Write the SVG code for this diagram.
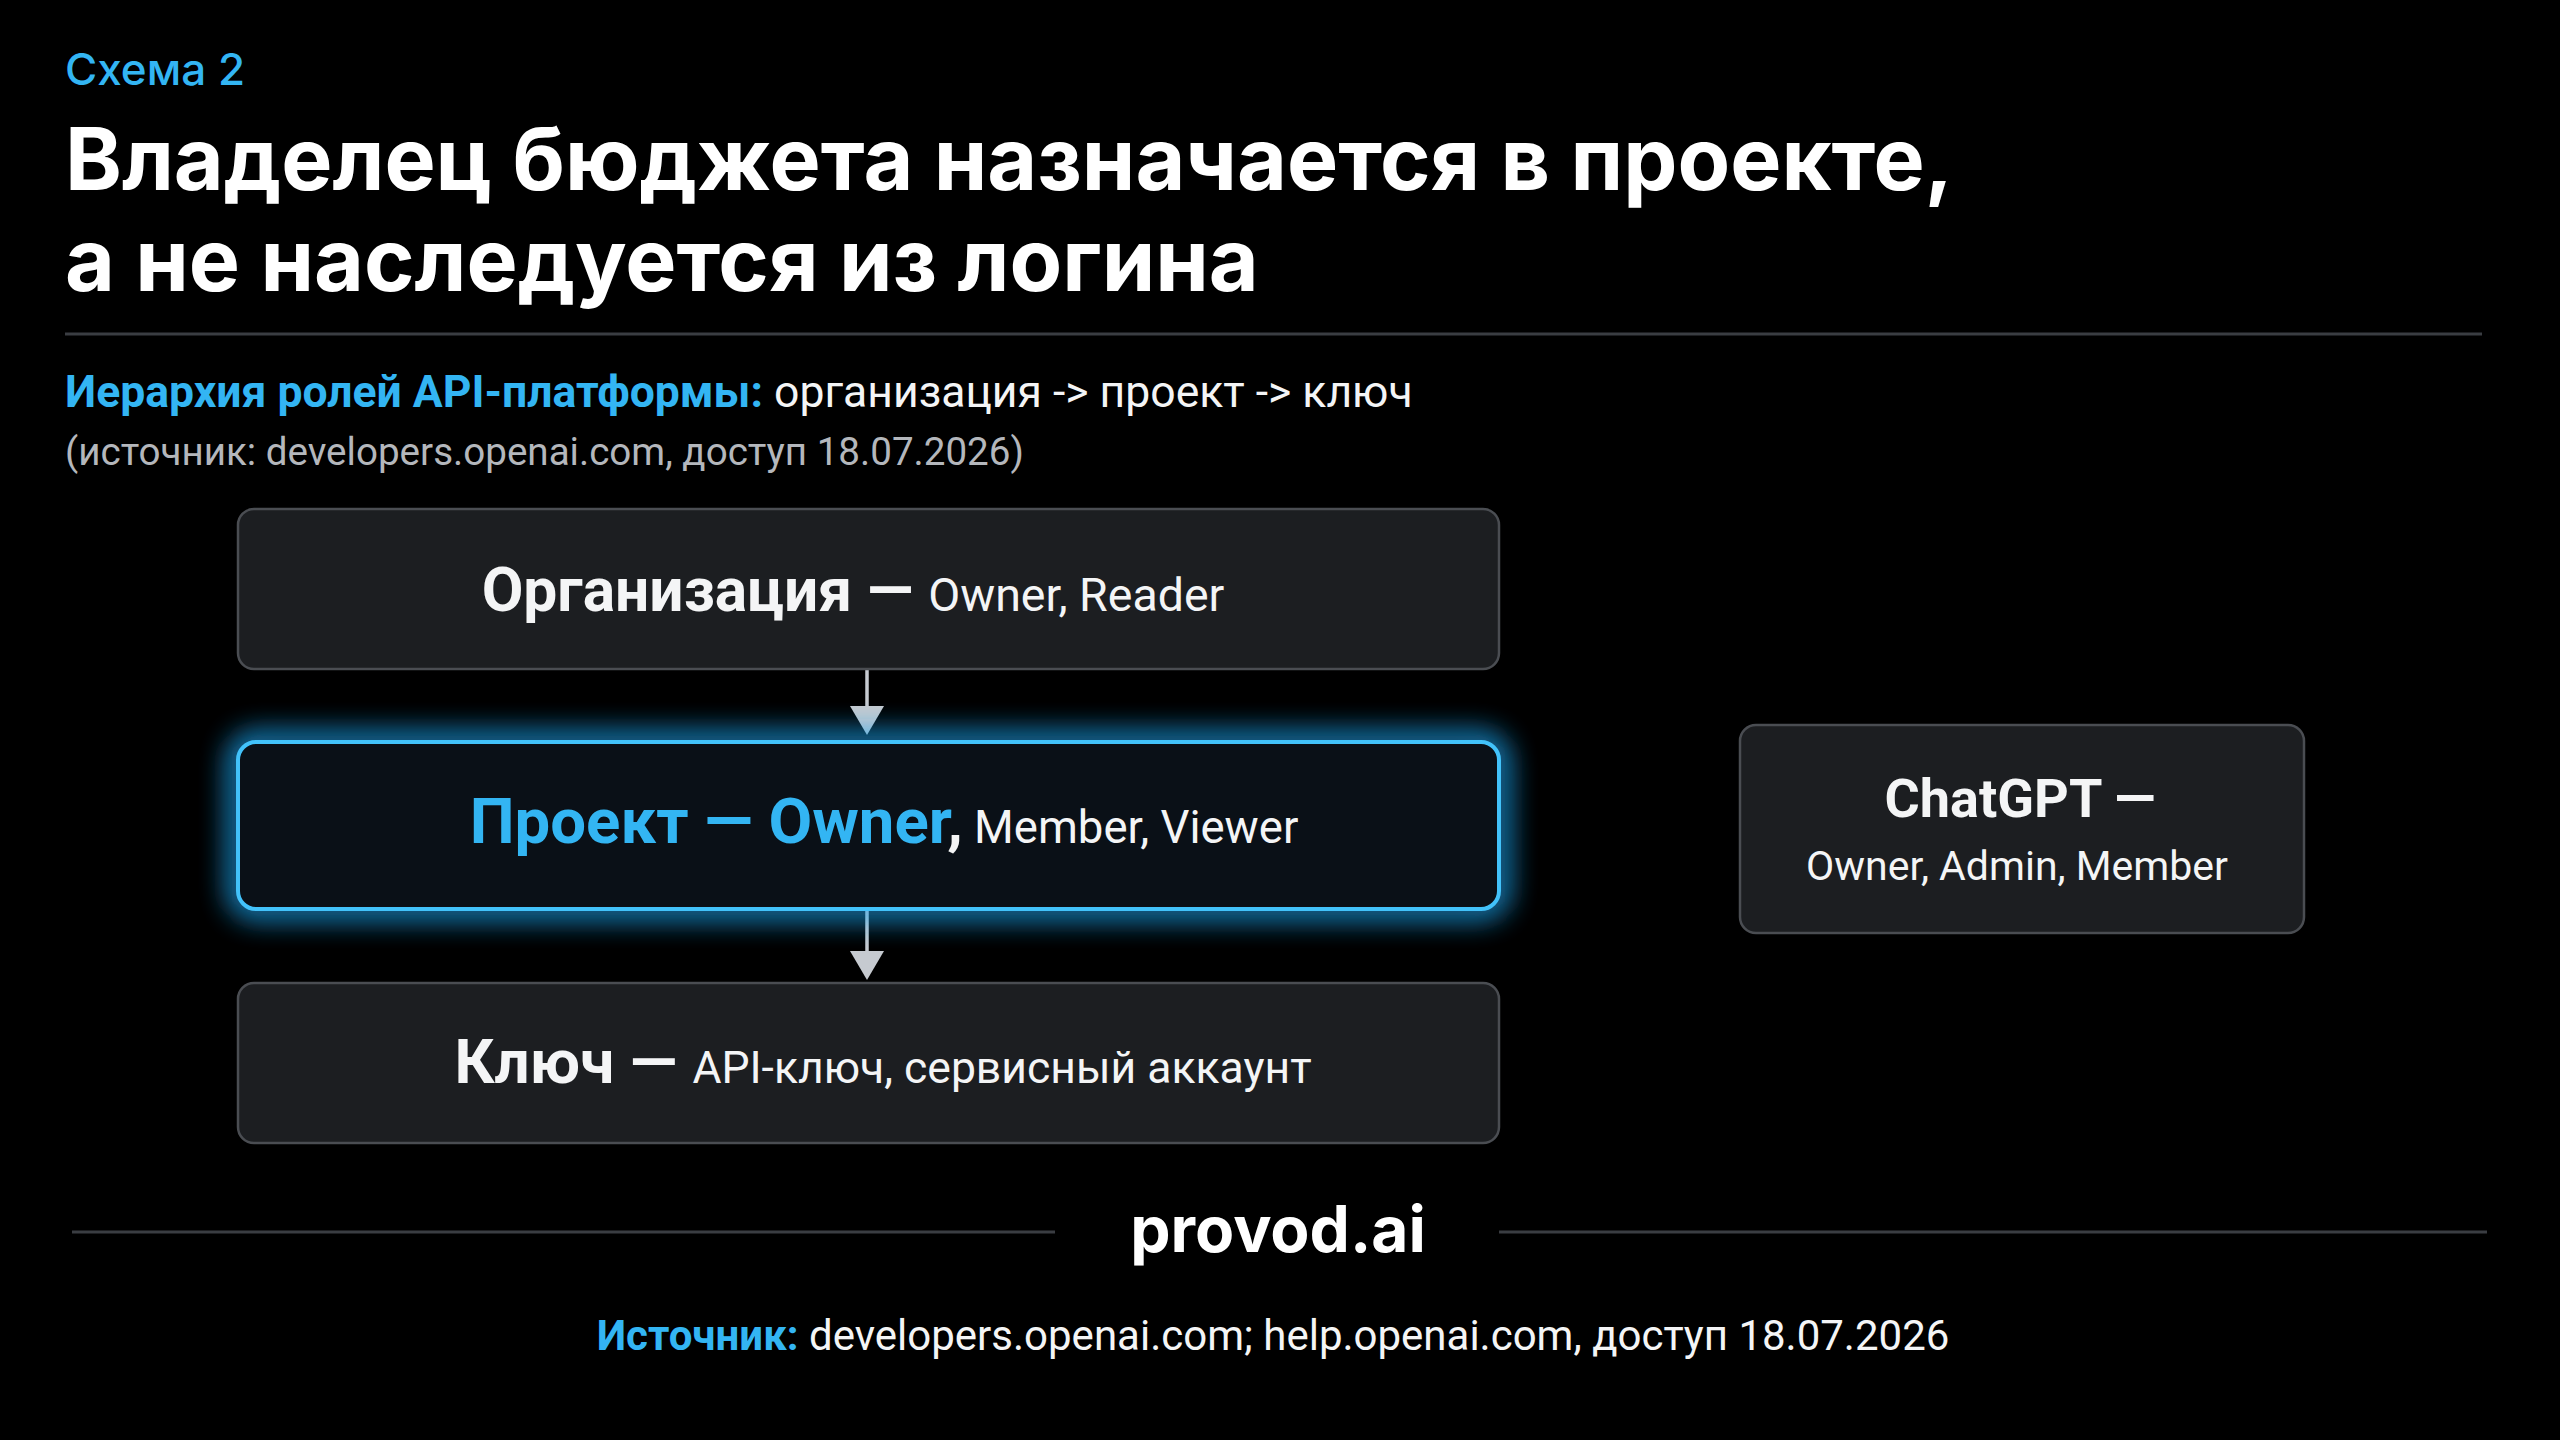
<svg xmlns="http://www.w3.org/2000/svg" width="2560" height="1440" viewBox="0 0 2560 1440">
  <style>
    .bg { fill: #000000; }
    .title { font-family: Inter, "Noto Sans", "DejaVu Sans", sans-serif; font-weight: 700; fill: #ffffff; }
    .kicker { font-family: Inter, "Noto Sans", sans-serif; font-weight: 500; }
    .reg { font-family: Roboto, "Liberation Sans", sans-serif; font-weight: 400; }
    .bold { font-family: Roboto, "Liberation Sans", sans-serif; font-weight: 700; }
    .blue { fill: #33b5f3; }
    .white { fill: #f4f5f6; }
    .muted { fill: #b4b7bc; }
    .box { fill: #1c1e21; stroke: #4a4d52; stroke-width: 2.5; }
    .hbox { fill: #0a1017; stroke: #42c2fa; stroke-width: 4; }
    .rule { stroke: #3a3d42; stroke-width: 3; }
    .conn { stroke: #c6cad0; stroke-width: 3.5; fill: none; }
  </style>
  <defs>
    <marker id="arr" viewBox="0 -17 30 34" markerWidth="30" markerHeight="34" refX="9" refY="0" orient="auto" markerUnits="userSpaceOnUse">
      <path d="M0,-17 L29,0 L0,17 z" fill="#c6cad0"/>
    </marker>
    <filter id="glow" x="-10%" y="-50%" width="120%" height="200%">
      <feGaussianBlur stdDeviation="14"/>
    </filter>
  </defs>

  <rect class="bg" x="0" y="0" width="2560" height="1440"/>

  <g id="header">
    <text class="kicker blue" x="65" y="85" font-size="44">Схема 2</text>
    <text class="title" x="65" y="190" font-size="86">Владелец бюджета назначается в проекте,</text>
    <text class="title" x="65" y="291" font-size="86">а не наследуется из логина</text>
    <line class="rule" x1="65" y1="334" x2="2482" y2="334"/>
    <text x="65" y="407" font-size="44.5"><tspan class="bold blue">Иерархия ролей API-платформы:</tspan><tspan class="reg white"> организация -&gt; проект -&gt; ключ</tspan></text>
    <text class="reg muted" x="65" y="465" font-size="38.6">(источник: developers.openai.com, доступ 18.07.2026)</text>
  </g>

  <g id="connectors">
    <line class="conn" x1="867" y1="669" x2="867" y2="715" marker-end="url(#arr)"/>
    <line class="conn" x1="867" y1="910" x2="867" y2="960" marker-end="url(#arr)"/>
  </g>

  <g id="node-org">
    <rect class="box" x="238" y="509" width="1261" height="160" rx="16"/>
    <text x="853" y="611" text-anchor="middle"><tspan class="bold white" font-size="60.5">Организация — </tspan><tspan class="reg white" font-size="46.5">Owner, Reader</tspan></text>
  </g>

  <g id="node-project">
    <rect x="238" y="742" width="1261" height="167" rx="18" fill="none" stroke="#1ea4ee" stroke-width="20" opacity="0.95" filter="url(#glow)"/>
    <rect class="hbox" x="238" y="742" width="1261" height="167" rx="18"/>
    <text x="884" y="843" text-anchor="middle"><tspan class="bold blue" font-size="63.5">Проект — Owner</tspan><tspan class="bold white" font-size="63.5">,</tspan><tspan class="reg white" font-size="45.5"> Member, Viewer</tspan></text>
  </g>

  <g id="node-key">
    <rect class="box" x="238" y="983" width="1261" height="160" rx="16"/>
    <text x="883" y="1083" text-anchor="middle"><tspan class="bold white" font-size="62">Ключ — </tspan><tspan class="reg white" font-size="44.5">API-ключ, сервисный аккаунт</tspan></text>
  </g>

  <g id="node-chatgpt">
    <rect class="box" x="1740" y="725" width="564" height="208" rx="16"/>
    <text class="bold white" x="2020" y="817" font-size="54" text-anchor="middle">ChatGPT —</text>
    <text class="reg white" x="2017" y="880" font-size="41" text-anchor="middle">Owner, Admin, Member</text>
  </g>

  <g id="footer">
    <line class="rule" x1="72" y1="1232" x2="1055" y2="1232"/>
    <line class="rule" x1="1499" y1="1232" x2="2487" y2="1232"/>
    <text class="title" x="1278" y="1252" font-size="64" text-anchor="middle">provod.ai</text>
    <text x="1273" y="1350" font-size="42" text-anchor="middle"><tspan class="bold blue">Источник:</tspan><tspan class="reg white"> developers.openai.com; help.openai.com, доступ 18.07.2026</tspan></text>
  </g>
</svg>
